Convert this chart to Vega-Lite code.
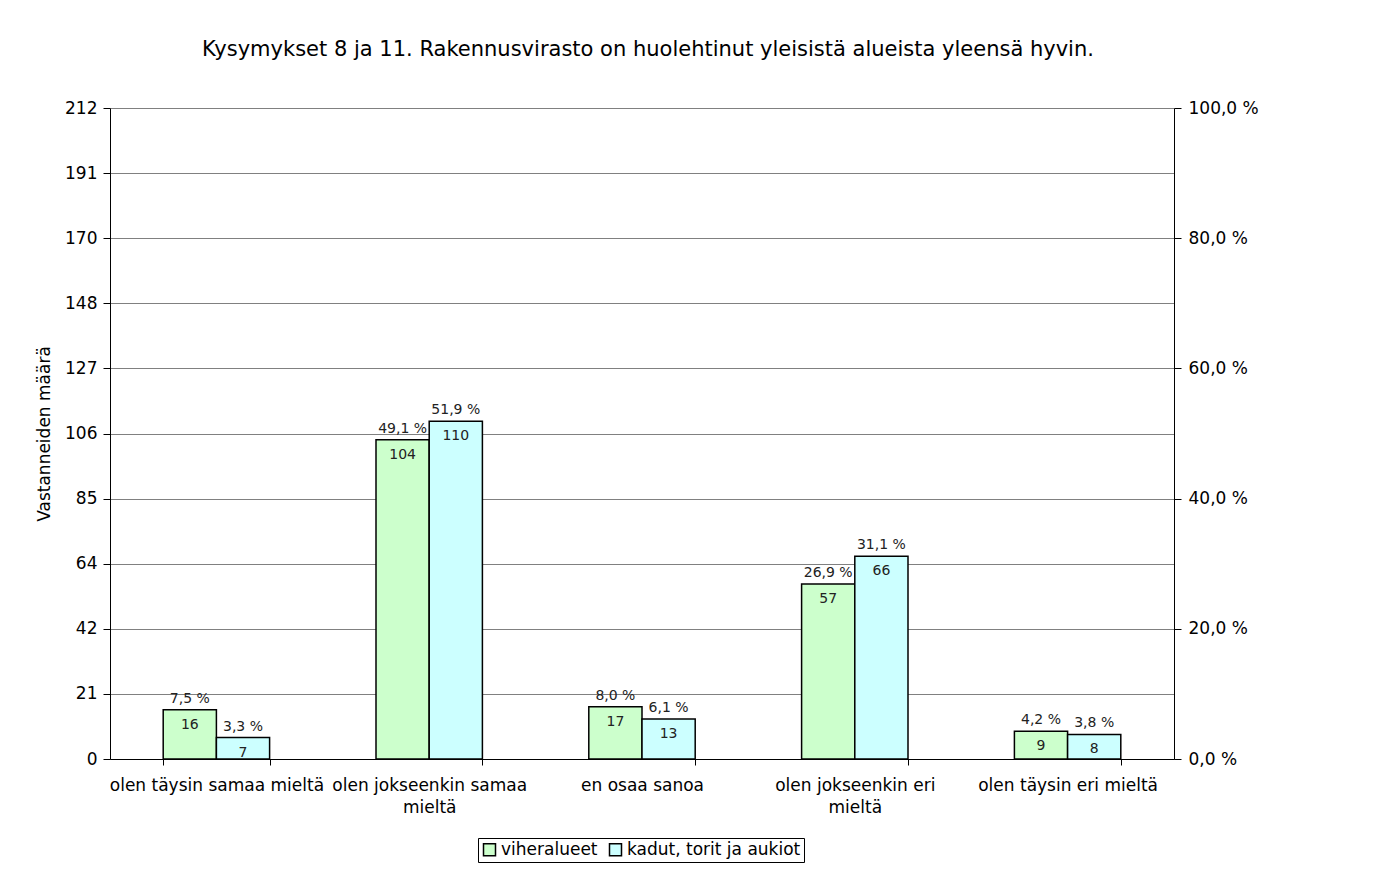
{
  "$schema": "https://vega.github.io/schema/vega-lite/v6.json",
  "width": 1064,
  "height": 651,
  "autosize": {"type": "none"},
  "padding": {"left": 110, "top": 108, "right": 210, "bottom": 116},
  "background": "white",
  "config": {
    "font": "DejaVu Sans",
    "view": {"stroke": null}
  },
  "title": {
    "text": "Kysymykset 8 ja 11. Rakennusvirasto on huolehtinut yleisistä alueista yleensä hyvin.",
    "fontSize": 21,
    "fontWeight": "normal",
    "font": "DejaVu Sans",
    "color": "black",
    "offset": 39,
    "dx": 6
  },
  "data": {
    "values": [
      {"cat": "olen täysin samaa mieltä", "series": "viheralueet", "count": 16, "pct": 7.5},
      {"cat": "olen täysin samaa mieltä", "series": "kadut, torit ja aukiot", "count": 7, "pct": 3.3},
      {"cat": "olen jokseenkin samaa mieltä", "series": "viheralueet", "count": 104, "pct": 49.1},
      {"cat": "olen jokseenkin samaa mieltä", "series": "kadut, torit ja aukiot", "count": 110, "pct": 51.9},
      {"cat": "en osaa sanoa", "series": "viheralueet", "count": 17, "pct": 8.0},
      {"cat": "en osaa sanoa", "series": "kadut, torit ja aukiot", "count": 13, "pct": 6.1},
      {"cat": "olen jokseenkin eri mieltä", "series": "viheralueet", "count": 57, "pct": 26.9},
      {"cat": "olen jokseenkin eri mieltä", "series": "kadut, torit ja aukiot", "count": 66, "pct": 31.1},
      {"cat": "olen täysin eri mieltä", "series": "viheralueet", "count": 9, "pct": 4.2},
      {"cat": "olen täysin eri mieltä", "series": "kadut, torit ja aukiot", "count": 8, "pct": 3.8}
    ]
  },
  "transform": [
    {"calculate": "replace(format(datum.pct, '.1f'), '.', ',') + ' %'", "as": "pctLabel"}
  ],
  "encoding": {
    "x": {
      "field": "cat",
      "type": "nominal",
      "sort": ["olen täysin samaa mieltä", "olen jokseenkin samaa mieltä", "en osaa sanoa", "olen jokseenkin eri mieltä", "olen täysin eri mieltä"],
      "scale": {"paddingInner": 0.5, "paddingOuter": 0.25},
      "axis": {
        "title": null,
        "labelAngle": 0,
        "labelFontSize": 17,
        "labelColor": "black",
        "labelPadding": 12,
        "labelLineHeight": 22,
        "labelLimit": 400,
        "labelOverlap": false,
        "labelExpr": "datum.value == 'olen jokseenkin samaa mieltä' ? ['olen jokseenkin samaa', 'mieltä'] : datum.value == 'olen jokseenkin eri mieltä' ? ['olen jokseenkin eri', 'mieltä'] : datum.value",
        "tickBand": "extent",
        "tickSize": 6,
        "tickColor": "black",
        "domainColor": "black",
        "grid": false
      }
    },
    "xOffset": {"field": "series", "type": "nominal", "sort": ["viheralueet", "kadut, torit ja aukiot"]}
  },
  "layer": [
    {
      "layer": [
        {
          "mark": {"type": "bar", "stroke": "black", "strokeWidth": 1.5},
          "encoding": {
            "y": {
              "field": "count",
              "type": "quantitative",
              "scale": {"domain": [0, 212], "nice": false, "zero": true},
              "axis": {
                "orient": "left",
                "values": [0, 21.2, 42.4, 63.6, 84.8, 106, 127.2, 148.4, 169.6, 190.8, 212],
                "format": ".0f",
                "title": "Vastanneiden määrä",
                "titleFontSize": 17,
                "titleFontWeight": "normal",
                "titleColor": "black",
                "titlePadding": 11,
                "labelFontSize": 17,
                "labelColor": "black",
                "labelPadding": 6,
                "tickSize": 7,
                "tickColor": "black",
                "domainColor": "black",
                "grid": true,
                "gridColor": "#808080",
                "gridWidth": 1
              }
            },
            "fill": {
              "field": "series",
              "type": "nominal",
              "scale": {"domain": ["viheralueet", "kadut, torit ja aukiot"], "range": ["#CCFFCC", "#CCFFFF"]},
              "legend": {
                "title": null,
                "orient": "none",
                "legendX": 368,
                "legendY": 730,
                "direction": "horizontal",
                "strokeColor": "black",
                "fillColor": "white",
                "padding": 3,
                "symbolType": "square",
                "symbolSize": 144,
                "symbolStrokeColor": "black",
                "symbolStrokeWidth": 1.5,
                "labelFontSize": 17,
                "labelColor": "black",
                "labelLimit": 400,
                "labelOffset": 3,
                "columnPadding": 8
              }
            }
          }
        },
        {
          "mark": {"type": "text", "baseline": "top", "dy": 8, "fontSize": 14, "color": "#222222"},
          "encoding": {
            "y": {"field": "count", "type": "quantitative"},
            "text": {"field": "count", "type": "quantitative"}
          }
        },
        {
          "mark": {"type": "text", "baseline": "bottom", "dy": -4, "fontSize": 14, "color": "#222222"},
          "encoding": {
            "y": {"field": "count", "type": "quantitative"},
            "text": {"field": "pctLabel", "type": "nominal"}
          }
        }
      ]
    },
    {
      "mark": {"type": "tick", "opacity": 0},
      "encoding": {
        "y": {
          "field": "pct",
          "type": "quantitative",
          "scale": {"domain": [0, 100], "nice": false},
          "axis": {
            "orient": "right",
            "values": [0, 20, 40, 60, 80, 100],
            "labelExpr": "replace(format(datum.value, '.1f'), '.', ',') + ' %'",
            "title": null,
            "labelFontSize": 17,
            "labelColor": "black",
            "labelPadding": 7,
            "tickSize": 7,
            "tickColor": "black",
            "domainColor": "black",
            "grid": false
          }
        }
      }
    }
  ],
  "resolve": {"scale": {"y": "independent"}}
}
